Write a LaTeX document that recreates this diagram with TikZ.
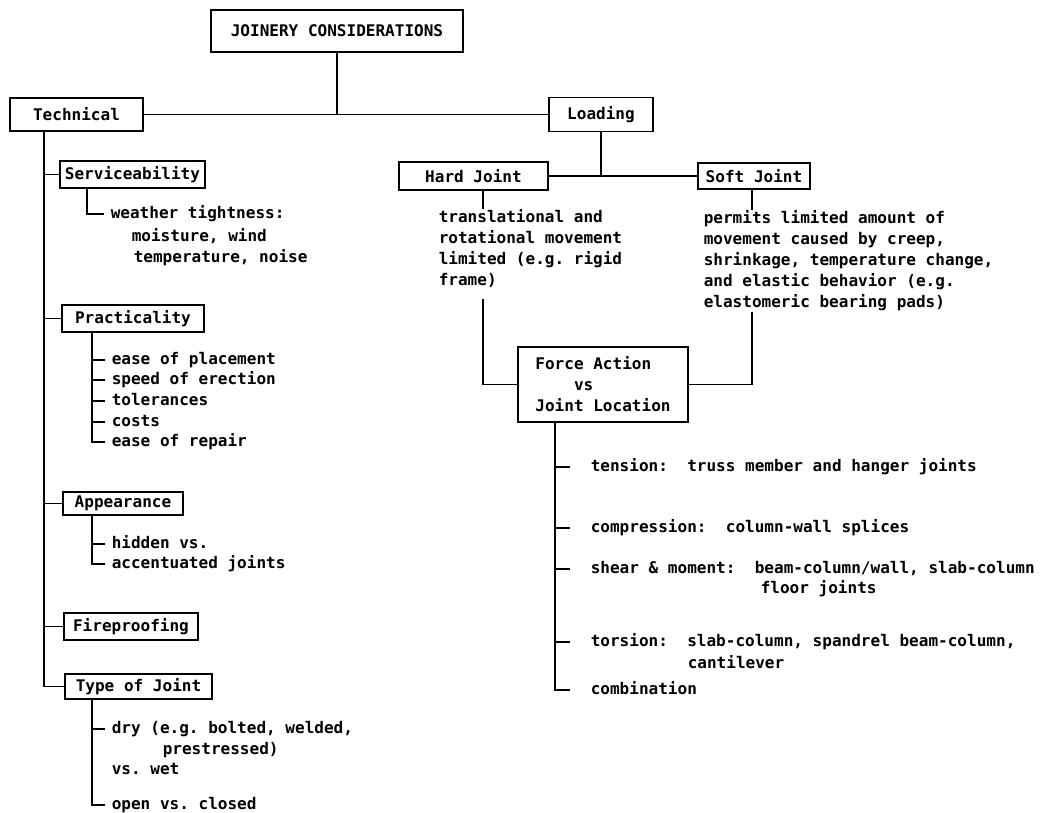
\documentclass[tikz,border=0pt]{standalone}
\usepackage{fontspec}
\setmainfont{DejaVu Sans Mono}
\begin{document}
\begin{tikzpicture}[x=0.025cm, y=-0.025cm, line width=1.1pt,
    font=\fontsize{11.4}{14.9}\selectfont\bfseries\frenchspacing,
    box/.style={draw, inner sep=0pt},
    leaf/.style={anchor=west, inner xsep=0.15cm, inner ysep=0pt, text height=0.75em, text depth=0.1em},
    far/.style={leaf, inner xsep=0.5cm},
    txt/.style={anchor=west, inner sep=0pt},
    para/.style={anchor=north west, inner sep=0pt, align=left}]
    \useasboundingbox[fill=white] (0,0) rectangle (1055,812);
    % boxes
    \node[box, minimum width=6.3cm, minimum height=1.05cm] (root) at (337,31) {JOINERY CONSIDERATIONS};
    \node[box, minimum width=3.325cm, minimum height=0.825cm] (tech) at (76.5,114.5) {Technical};
    \node[box, minimum width=2.6cm, minimum height=0.85cm] (load) at (601,114.5) {Loading};
    \node[box, minimum width=3.725cm, minimum height=0.7cm] (hard) at (473.5,176) {Hard Joint};
    \node[box, minimum width=2.8cm, minimum height=0.65cm] (soft) at (754,176) {Soft Joint};
    \node[box, minimum width=4.25cm, minimum height=1.875cm, align=left] (force) at (603,384.5) {Force Action\\~~~~vs\\Joint Location};
    \node[box, minimum width=3.625cm, minimum height=0.675cm] (serv) at (132.5,174.5) {Serviceability};
    \node[box, minimum width=3.55cm, minimum height=0.675cm] (prac) at (133,318.5) {Practicality};
    \node[box, minimum width=3cm, minimum height=0.575cm] (appear) at (123,503.5) {Appearance};
    \node[box, minimum width=3.35cm, minimum height=0.675cm] (fire) at (131,626.5) {Fireproofing};
    \node[box, minimum width=3.675cm, minimum height=0.625cm] (type) at (138.5,686.5) {Type of Joint};
    % texts
    \node[para] (hardtxt) at (438,209) {translational and\\rotational movement\\limited (e.g. rigid\\frame)};
    \node[para] (softtxt) at (703,210) {permits limited amount of\\movement caused by creep,\\shrinkage, temperature change,\\and elastic behavior (e.g.\\elastomeric bearing pads)};
    \node[leaf] (w1) at (104,214) {weather tightness:};
    \node[txt] (w2) at (131,236) {moisture, wind};
    \node[txt] (w3) at (133,258) {temperature, noise};
    \node[leaf] (p1) at (105,360) {ease of placement};
    \node[leaf] (p2) at (105,380) {speed of erection};
    \node[leaf] (p3) at (105,401) {tolerances};
    \node[leaf] (p4) at (105,422) {costs};
    \node[leaf] (p5) at (105,442) {ease of repair};
    \node[leaf] (a1) at (105,544) {hidden vs.};
    \node[leaf] (a2) at (105,564) {accentuated joints};
    \node[leaf] (t1) at (105,729) {dry (e.g. bolted, welded,};
    \node[txt] (t2) at (162,750) {prestressed)};
    \node[txt] (t3) at (111,769) {vs. wet};
    \node[leaf] (t4) at (105,805) {open vs. closed};
    \node[far] (f1) at (570,467) {tension:~~truss member and hanger joints};
    \node[far] (f2) at (570,528) {compression:~~column-wall splices};
    \node[far] (f3) at (570,569) {shear \& moment:~~beam-column/wall, slab-column};
    \node[txt] (f3b) at (760,589) {floor joints};
    \node[far] (f4) at (570,642) {torsion:~~slab-column, spandrel beam-column,};
    \node[txt] (f4b) at (687,662) {cantilever};
    \node[far] (f5) at (570,690) {combination};
    % trunk positions
    \coordinate (tx) at (44,0);
    \coordinate (sx) at (87,0);
    \coordinate (px) at (92,0);
    \coordinate (hx) at (483,0);
    \coordinate (kx) at (752,0);
    \coordinate (fx) at (555,0);
    % connectors
    \draw (root.south) -- (root.south |- tech.east);
    \draw (tech.east) -- (load.west);
    \draw (load.south) -- (load.south |- hard.east);
    \draw (hard.east) -- (soft.west);
    \draw (hx |- hard.south) -- (hx |- hardtxt.north);
    \draw (kx |- soft.south) -- (kx |- softtxt.north);
    \draw[shorten <=0.27cm] (hx |- hardtxt.south) |- (force.west);
    \draw (kx |- softtxt.south) |- (force.east);
    \draw (fx |- force.south) |- (f5.west);
    \foreach \n in {f1,f2,f3,f4} \draw (fx |- \n.west) -- (\n.west);
    \draw (tx |- tech.south) |- (type.west);
    \foreach \n in {serv,prac,appear,fire} \draw (tx |- \n.west) -- (\n.west);
    \draw (sx |- serv.south) |- (w1.west);
    \draw (px |- prac.south) |- (p5.west);
    \foreach \n in {p1,p2,p3,p4} \draw (px |- \n.west) -- (\n.west);
    \draw (px |- appear.south) |- (a2.west);
    \draw (px |- a1.west) -- (a1.west);
    \draw (px |- type.south) |- (t4.west);
    \draw (px |- t1.west) -- (t1.west);
\end{tikzpicture}
\end{document}
